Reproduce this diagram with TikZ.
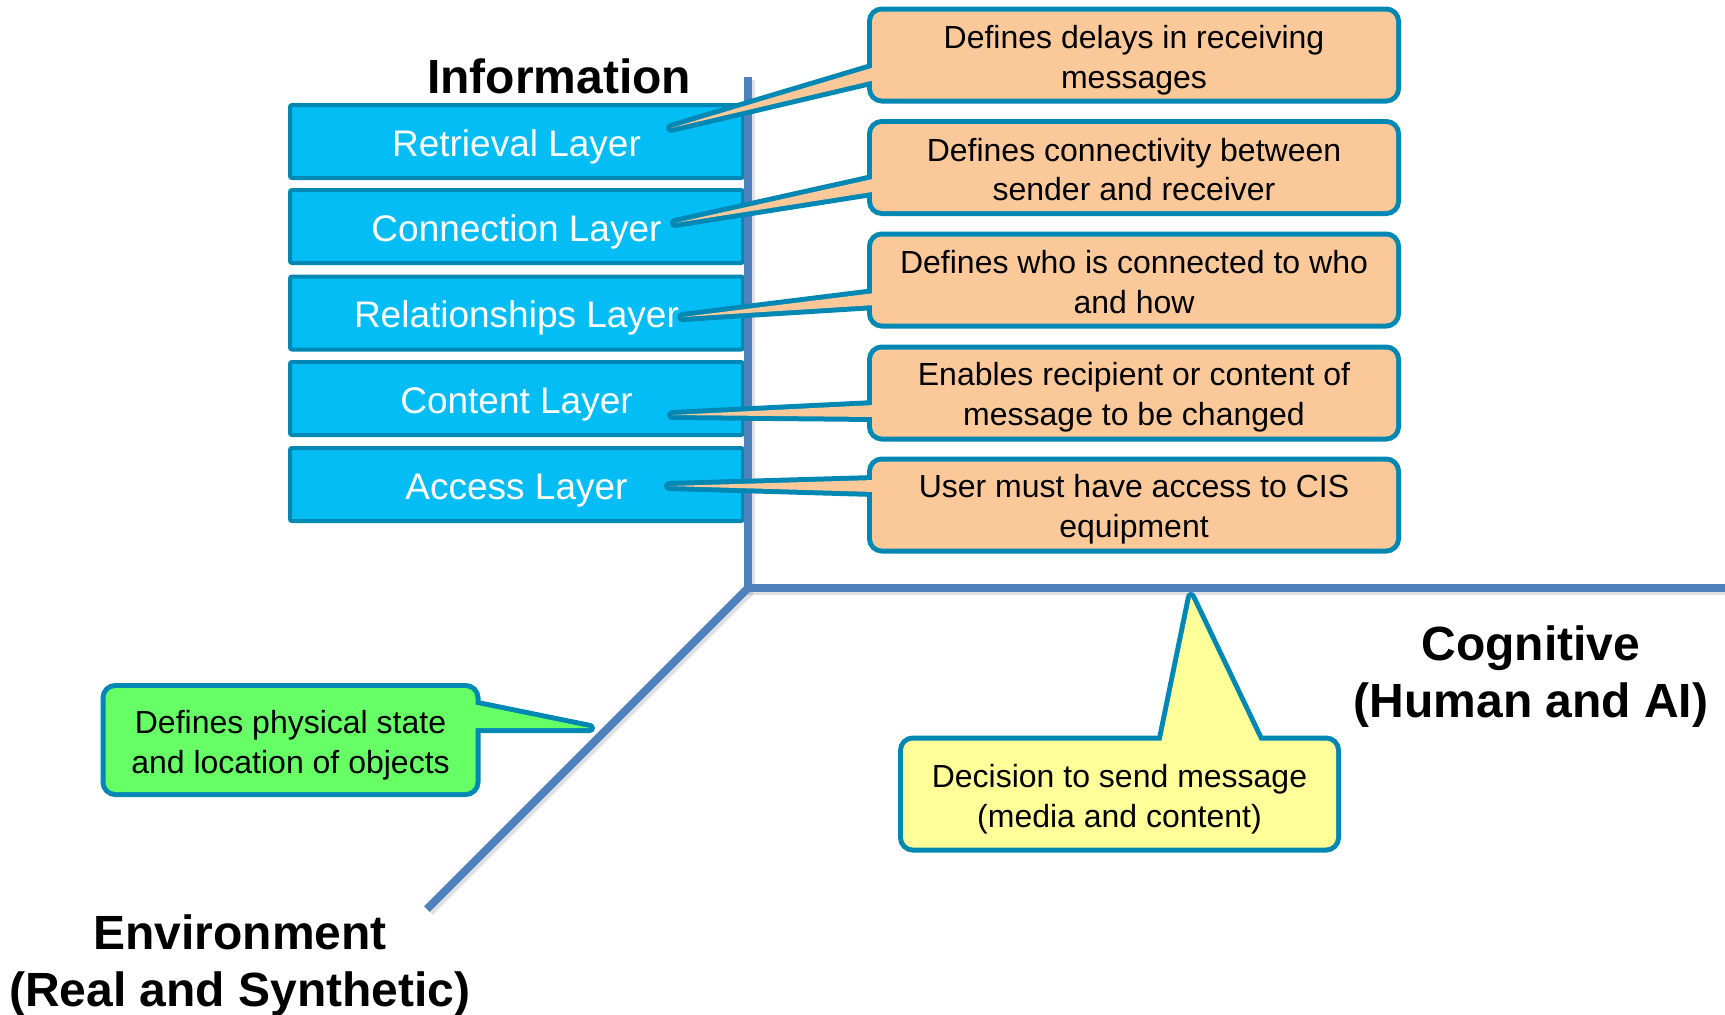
\documentclass[tikz,border=0pt]{standalone}
\usepackage{fontspec}
\setmainfont{Liberation Sans}
\usetikzlibrary{calc}

\definecolor{axisblue}{HTML}{4F81BD}
\definecolor{layerfill}{HTML}{05BDF5}
\definecolor{edgeblue}{HTML}{0088B5}
\definecolor{peach}{HTML}{FBC999}
\definecolor{limefill}{HTML}{66FF66}
\definecolor{paleyellow}{HTML}{FFFF99}

\begin{document}
\begin{tikzpicture}[x=1pt,y=-1pt,
  layerbox/.style={draw=edgeblue, fill=layerfill, line width=4pt, rounded corners=2pt,
    minimum width=453pt, minimum height=73pt, inner sep=0pt, text=white,
    text height=29pt, text depth=0pt, font=\fontsize{37}{44}\selectfont},
  axisline/.style={draw=axisblue, line width=8pt},
  axisshadow/.style={draw=black, opacity=0.12, line width=8pt},
  % outline pass: doubled stroke so that half of it shows outside the fill
  noteedge/.style={draw=edgeblue, line width=10pt, rounded corners=10pt, inner sep=0pt},
  tailedge/.style={draw=edgeblue, line width=10pt, line join=round},
  notefill/.style={rounded corners=10pt, inner sep=0pt},
  notetext/.style={inner sep=0pt, align=center, font=\fontsize{32}{39.5}\selectfont},
  orangesize/.style={minimum width=524pt, minimum height=87pt},
  greensize/.style={minimum width=370pt, minimum height=104pt},
  yellowsize/.style={minimum width=433pt, minimum height=107pt},
  titletext/.style={font=\bfseries\fontsize{48}{57}\selectfont, align=center, inner sep=0pt},
]
\useasboundingbox[fill=white] (0,0) rectangle (1725,1015);

% information layers
\node[layerbox] (retrieval) at (516.5,141.5) {Retrieval Layer};
\node[layerbox] (connection) at (516.5,226.5) {Connection Layer};
\node[layerbox] (relations) at (516.5,313) {Relationships Layer};
\node[layerbox] (content) at (516.5,398.5) {Content Layer};
\node[layerbox] (access) at (516.5,484.5) {Access Layer};

% the three axes
\coordinate (origin) at (748,588);
\coordinate (infotop) at (748,77);
\coordinate (cogend) at (1725,588);
\coordinate (envend) at (427,909);
\draw[axisshadow] ([shift={(3,3)}]infotop) -- ([shift={(3,3)}]origin) -- ([shift={(3,3)}]cogend);
\draw[axisshadow] ([shift={(3,3)}]origin) -- ([shift={(3,3)}]envend);
\draw[axisline] (origin) -- (envend);
\draw[axisline] (infotop) -- ([yshift=-4]origin) ;
\draw[axisline] ([xshift=-4]origin) -- (cogend);

% axis titles
\node[titletext, anchor=base] (infotitle) at (559,93) {Information};
\node[titletext] (cogtitle) at (1531,677) {Cognitive\\(Human and AI)};
\node[titletext] (envtitle) at (240,966) {Environment\\(Real and Synthetic)};

% orange callouts: tail tips
\coordinate (t1) at (671,128);
\coordinate (t2) at (675,223);
\coordinate (t3) at (682,317);
\coordinate (t4) at (672,415);
\coordinate (t5) at (669,486);

% outline pass
\node[noteedge, orangesize] (d1) at (1134,55) {};
\node[noteedge, orangesize] (d2) at (1134,167.5) {};
\node[noteedge, orangesize] (d3) at (1134,280) {};
\node[noteedge, orangesize] (d4) at (1134,393) {};
\node[noteedge, orangesize] (d5) at (1134,505) {};
\draw[tailedge] ($(d1.west)+(8,12)$) -- (t1) -- ($(d1.west)+(8,25)$);
\draw[tailedge] ($(d2.west)+(8,11)$) -- (t2) -- ($(d2.west)+(8,24)$);
\draw[tailedge] ($(d3.west)+(8,13)$) -- (t3) -- ($(d3.west)+(8,25)$);
\draw[tailedge] ($(d4.west)+(8,12)$) -- (t4) -- ($(d4.west)+(8,24)$);
\draw[tailedge] ($(d5.west)+(8,-25)$) -- (t5) -- ($(d5.west)+(8,-13)$);
% fill pass
\fill[peach] ($(d1.west)+(8,12)$) -- (t1) -- ($(d1.west)+(8,25)$) -- cycle;
\fill[peach] ($(d2.west)+(8,11)$) -- (t2) -- ($(d2.west)+(8,24)$) -- cycle;
\fill[peach] ($(d3.west)+(8,13)$) -- (t3) -- ($(d3.west)+(8,25)$) -- cycle;
\fill[peach] ($(d4.west)+(8,12)$) -- (t4) -- ($(d4.west)+(8,24)$) -- cycle;
\fill[peach] ($(d5.west)+(8,-25)$) -- (t5) -- ($(d5.west)+(8,-13)$) -- cycle;
\foreach \i in {1,...,5} {
  \node[notefill, orangesize, fill=peach] (f\i) at (d\i) {};
}
\node[notetext] (n1) at ([yshift=-5]d1) {Defines delays in receiving\\messages};
\node[notetext] (n2) at ([yshift=-2]d2) {Defines connectivity between\\sender and receiver};
\node[notetext] (n3) at ([yshift=-2]d3) {Defines who is connected to who\\and how};
\node[notetext] (n4) at ([yshift=-4]d4) {Enables recipient or content of\\message to be changed};
\node[notetext] (n5) at ([yshift=-4]d5) {User must have access to CIS\\equipment};

% environment callout
\coordinate (tg) at (590,728);
\node[noteedge, greensize] (g0) at (290.5,740) {};
\draw[tailedge] ($(g0.east)+(-8,-36)$) -- (tg) -- ($(g0.east)+(-8,-12)$);
\fill[limefill] ($(g0.east)+(-8,-36)$) -- (tg) -- ($(g0.east)+(-8,-12)$) -- cycle;
\node[notefill, greensize, fill=limefill] (g1) at (g0) {};
\node[notetext] (g2) at ([yshift=-5]g0) {Defines physical state\\and location of objects};

% cognitive callout
\coordinate (ty) at (1191,597);
\node[noteedge, yellowsize] (y0) at (1119.5,794) {};
\draw[tailedge] ($(y0.north)+(41.5,8)$) -- (ty) -- ($(y0.north)+(141.5,8)$);
\fill[paleyellow] ($(y0.north)+(41.5,8)$) -- (ty) -- ($(y0.north)+(141.5,8)$) -- cycle;
\node[notefill, yellowsize, fill=paleyellow] (y1) at (y0) {};
\node[notetext] (y2) at ([yshift=-5]y0) {Decision to send message\\(media and content)};
\end{tikzpicture}
\end{document}
